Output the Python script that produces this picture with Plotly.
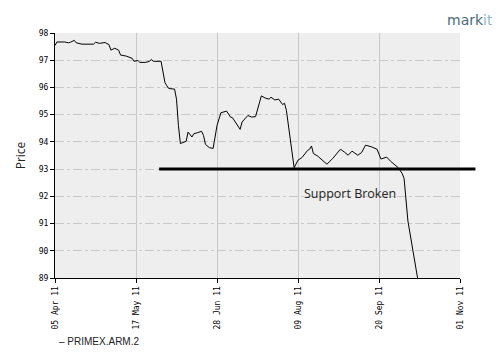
import plotly.graph_objects as go
import pandas as pd

# ---- data ----
dates = [
    "2011-04-05", "2011-04-06", "2011-04-10", "2011-04-12", "2011-04-13", "2011-04-15",
    "2011-04-16", "2011-04-19", "2011-04-25", "2011-04-26", "2011-04-28", "2011-05-01",
    "2011-05-03", "2011-05-04", "2011-05-06", "2011-05-08", "2011-05-09", "2011-05-12",
    "2011-05-15", "2011-05-16", "2011-05-18", "2011-05-19", "2011-05-22", "2011-05-24",
    "2011-05-25", "2011-05-26", "2011-05-30", "2011-06-01", "2011-06-02", "2011-06-03",
    "2011-06-06", "2011-06-07", "2011-06-08", "2011-06-09", "2011-06-12", "2011-06-13",
    "2011-06-15", "2011-06-16", "2011-06-18", "2011-06-20", "2011-06-21", "2011-06-22",
    "2011-06-24", "2011-06-26", "2011-06-28", "2011-06-30", "2011-07-03", "2011-07-05",
    "2011-07-06", "2011-07-10", "2011-07-11", "2011-07-14", "2011-07-16", "2011-07-18",
    "2011-07-21", "2011-07-23", "2011-07-25", "2011-07-26", "2011-07-28", "2011-07-30",
    "2011-08-01", "2011-08-02", "2011-08-03", "2011-08-07", "2011-08-09", "2011-08-11",
    "2011-08-14", "2011-08-15", "2011-08-16", "2011-08-17", "2011-08-19", "2011-08-21",
    "2011-08-24", "2011-08-27", "2011-08-31", "2011-09-02", "2011-09-04", "2011-09-06",
    "2011-09-09", "2011-09-11", "2011-09-13", "2011-09-16", "2011-09-18", "2011-09-19",
    "2011-09-21", "2011-09-22", "2011-09-24", "2011-09-26", "2011-09-29", "2011-09-30",
    "2011-10-02", "2011-10-03", "2011-10-05", "2011-10-07", "2011-10-10",
]
prices = [
    97.54, 97.67, 97.67, 97.64, 97.66, 97.73,
    97.64, 97.59, 97.59, 97.66, 97.62, 97.65,
    97.57, 97.37, 97.44, 97.37, 97.19, 97.15,
    97.07, 96.96, 96.99, 96.92, 96.92, 96.96,
    97.03, 96.96, 96.96, 96.18, 96.06, 95.96,
    95.94, 95.57, 94.60, 93.94, 94.02, 94.36,
    94.18, 94.30, 94.34, 94.39, 94.24, 93.91,
    93.79, 93.76, 94.60, 95.07, 95.13, 94.91,
    94.89, 94.46, 94.73, 94.97, 94.91, 94.93,
    95.69, 95.61, 95.57, 95.64, 95.54, 95.57,
    95.37, 95.42, 95.15, 93.05, 93.33, 93.42,
    93.69, 93.73, 93.85, 93.57, 93.49, 93.37,
    93.18, 93.39, 93.73, 93.63, 93.51, 93.66,
    93.51, 93.61, 93.88, 93.82, 93.76, 93.73,
    93.37, 93.39, 93.44, 93.29, 93.12, 93.05,
    92.84, 92.66, 91.09, 90.24, 89.00,
]
series_name = "PRIMEX.ARM.2"

x_tick_dates = ["2011-04-05", "2011-05-17", "2011-06-28", "2011-08-09", "2011-09-20", "2011-11-01"]
x_tick_labels = ["05 Apr 11", "17 May 11", "28 Jun 11", "09 Aug 11", "20 Sep 11", "01 Nov 11"]
y_ticks = [89, 90, 91, 92, 93, 94, 95, 96, 97, 98]

support_level = 93
support_start = "2011-05-29"
support_end = "2011-11-09"
support_label = "Support Broken"
support_label_date = "2011-09-05"
support_label_y = 92.1

x_range = ["2011-04-05", "2011-11-01"]
y_range = [89, 98]

# ---- figure ----
fig = go.Figure()
fig.add_trace(go.Scatter(
    x=dates, y=prices, mode="lines", name=series_name,
    line=dict(color="black", width=1), showlegend=False,
))

# support line in x-domain fractions (so it can run past the plot edge)
r0 = pd.Timestamp(x_range[0]); r1 = pd.Timestamp(x_range[1])
span = (r1 - r0).total_seconds()
fx0 = (pd.Timestamp(support_start) - r0).total_seconds() / span
fx1 = (pd.Timestamp(support_end) - r0).total_seconds() / span
fig.add_shape(type="line", xref="x domain", yref="y",
              x0=fx0, x1=fx1, y0=support_level, y1=support_level,
              line=dict(color="black", width=3))

fig.add_annotation(x=support_label_date, y=support_label_y, text=support_label,
                   showarrow=False, xref="x", yref="y",
                   font=dict(family="Open Sans, DejaVu Sans", size=12.5, color="#222"))

fig.add_annotation(x=0.005, y=-0.26, xref="paper", yref="paper", xanchor="left", yanchor="middle",
                   text="\u2013 " + series_name, showarrow=False,
                   font=dict(family="Liberation Sans, Arial", size=10, color="#222"))

fig.add_annotation(x=1.0856, y=1.053, xref="paper", yref="paper", xanchor="right", yanchor="middle",
                   text="mark<span style='color:#8fb9c3'>it</span>", showarrow=False,
                   font=dict(family="DejaVu Sans, Verdana", size=14, color="#4d6b7a"))

tickfont = dict(family="DejaVu Sans Mono, monospace", size=8, color="#000")

fig.update_layout(
    width=492, height=352,
    margin=dict(l=43, r=40, t=25, b=82),
    paper_bgcolor="white", plot_bgcolor="#eeeeee",
    showlegend=False,
    xaxis=dict(
        type="date", range=x_range,
        tickvals=x_tick_dates, ticktext=x_tick_labels, tickangle=-90,
        tickfont=tickfont, ticks="outside", ticklen=4, tickcolor="black",
        showline=True, linecolor="black", linewidth=1,
        showgrid=True, gridcolor="#c8c8c8", gridwidth=1, zeroline=False,
    ),
    yaxis=dict(
        range=y_range, tickvals=y_ticks, tickfont=tickfont,
        ticks="outside", ticklen=4, tickcolor="black",
        showline=True, linecolor="black", linewidth=1,
        showgrid=True, gridcolor="#c8c8c8", gridwidth=1, griddash="dashdot", zeroline=False,
        title=dict(text="Price", font=dict(family="Open Sans, DejaVu Sans", size=12, color="#222"), standoff=10),
    ),
)

fig.write_html("out.html")
